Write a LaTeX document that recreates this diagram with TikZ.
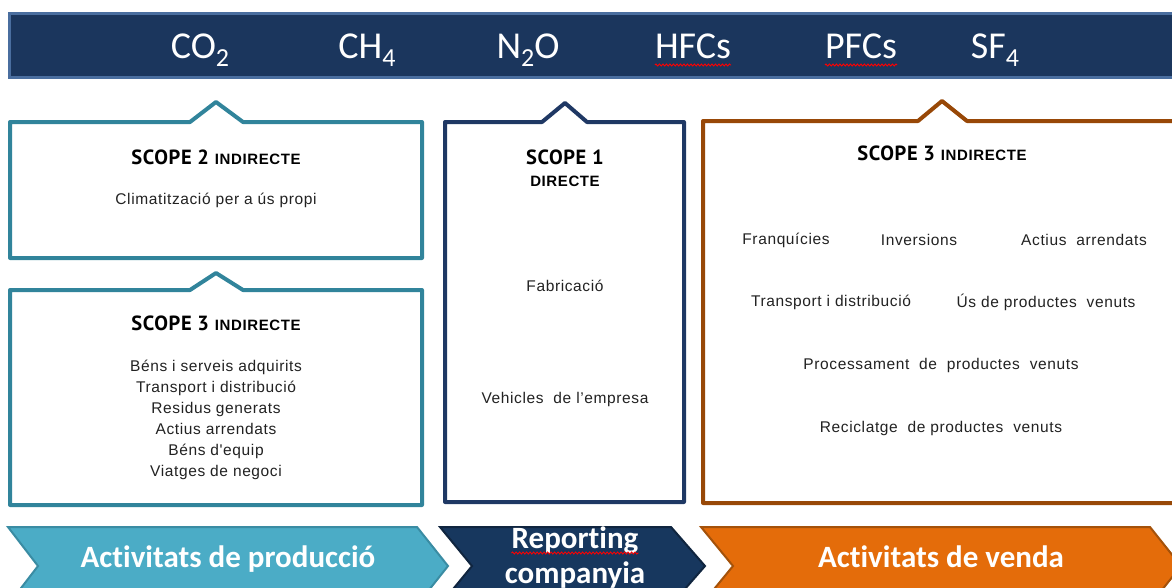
\documentclass[tikz,border=0pt]{standalone}
\usepackage{fontspec}
\setmainfont{Carlito}[Ligatures=NoCommon]
\newfontfamily\titlefont[LetterSpace=3]{PT Sans}
\newfontfamily\subfont[LetterSpace=4]{Liberation Sans}
\newfontfamily\bodyfont[LetterSpace=4]{Liberation Sans}
\usetikzlibrary{decorations.pathmorphing}
\definecolor{navy}{HTML}{1B365D}
\definecolor{navyedge}{HTML}{4A6E9F}
\definecolor{teal}{HTML}{31849B}
\definecolor{tealfill}{HTML}{4BACC6}
\definecolor{tealedge}{HTML}{3A8CA3}
\definecolor{boxnavy}{HTML}{1F3864}
\definecolor{chevnavy}{HTML}{17375E}
\definecolor{chevnavyedge}{HTML}{10253F}
\definecolor{brown}{HTML}{984807}
\definecolor{orangefill}{HTML}{E46C0A}
\definecolor{orangeedge}{HTML}{A4520A}
\definecolor{txtgray}{HTML}{222222}
\newcommand\gsub[1]{\raisebox{-0.22em}{\fontsize{26}{26}\selectfont #1}}
\newcommand\indir{{\subfont\bfseries\fontsize{15}{20}\selectfont INDIRECTE}}
\tikzset{
  gas/.style={font=\fontsize{38}{40}\selectfont, text=white, inner sep=0pt, anchor=base},
  ttl/.style={font=\titlefont\bfseries\fontsize{20.5}{24}\selectfont, text=black, align=center, inner sep=0pt},
  sub/.style={font=\subfont\bfseries\fontsize{15}{20}\selectfont, text=black, inner sep=0pt},
  body/.style={font=\bodyfont\fontsize{15.5}{21}\selectfont, text=txtgray, align=center, inner sep=0pt},
  chevtxt/.style={font=\bfseries\fontsize{31}{36}\selectfont, text=white, align=center, inner sep=0pt, anchor=base},
  scopebox/.style={line width=4pt, line join=round, fill=white},
  chevron/.style={line width=2pt, line join=miter},
  spell/.style={draw=red, line width=0.9pt, decorate, decoration={snake, amplitude=1pt, segment length=3.5pt}}
}
\begin{document}
\begin{tikzpicture}[x=1pt,y=-1pt]
\useasboundingbox (0,0) rectangle (1172,587);
\clip (0,0) rectangle (1172,587);

% top band
\fill[navy, draw=navyedge, line width=3pt] (9,13) rectangle (1185,77);
\node[gas] (co2) at (200,58) {CO\gsub{2}};
\node[gas] (ch4) at (367,58) {CH\gsub{4}};
\node[gas] (n2o) at (528,58) {N\gsub{2}O};
\node[gas] (hfc) at (693,58) {HFCs};
\node[gas] (pfc) at (861,58) {PFCs};
\node[gas] (sf4) at (995,58) {SF\gsub{4}};
\draw[spell] ([yshift=-7pt]hfc.base west) -- ([yshift=-7pt]hfc.base east);
\draw[spell] ([yshift=-7pt]pfc.base west) -- ([yshift=-7pt]pfc.base east);

% scope 2 box
\draw[scopebox, draw=teal] (10,122) -- (190,122) -- (216,102) -- (243,122) -- (422,122) -- (422,258) -- (10,258) -- cycle;
\node[ttl] (s2t) at (216,157) {SCOPE 2 \indir};
\node[body] (s2b) at (216,200) {Climatització per a ús propi};

% scope 3 left box
\draw[scopebox, draw=teal] (10,290) -- (190,290) -- (216,273) -- (243,290) -- (422,290) -- (422,505) -- (10,505) -- cycle;
\node[ttl] (s3lt) at (216,323) {SCOPE 3 \indir};
\node[body] (s3lb) at (216,420) {Béns i serveis adquirits\\Transport i distribució\\Residus generats\\Actius arrendats\\Béns d'equip\\Viatges de negoci};

% scope 1 box
\draw[scopebox, draw=boxnavy] (445,122) -- (542,122) -- (565,103) -- (587,122) -- (684,122) -- (684,502) -- (445,502) -- cycle;
\node[ttl] (s1t) at (565,157) {SCOPE 1};
\node[sub] (s1d) at (565,181) {DIRECTE};
\node[body] (s1a) at (565,286) {Fabricació};
\node[body] (s1b) at (565,399) {Vehicles\ \ de l’empresa};

% scope 3 right box
\draw[scopebox, draw=brown] (703,121) -- (918,121) -- (942,101) -- (967,121) -- (1185,121) -- (1185,503) -- (703,503) -- cycle;
\node[ttl] (s3rt) at (942,153) {SCOPE 3 \indir};
\node[body] (r1) at (786,240) {Franquícies};
\node[body] (r2) at (919,240) {Inversions};
\node[body] (r3) at (1084,240) {Actius\ \ arrendats};
\node[body] (r4) at (831,302) {Transport i distribució};
\node[body] (r5) at (1046,302) {Ús de productes\ \ venuts};
\node[body] (r6) at (941,365) {Processament\ \ de\ \ productes\ \ venuts};
\node[body] (r7) at (941,428) {Reciclatge\ \ de productes\ \ venuts};

% bottom chevrons
\draw[chevron, fill=tealfill, draw=tealedge] (8,527) -- (417,527) -- (448,566) -- (417,605) -- (8,605) -- (38,566) -- cycle;
\draw[chevron, fill=chevnavy, draw=chevnavyedge] (440,527) -- (671,527) -- (705,566) -- (671,605) -- (440,605) -- (472,566) -- cycle;
\draw[chevron, fill=orangefill, draw=orangeedge] (701,527) -- (1150,527) -- (1181,566) -- (1150,605) -- (701,605) -- (733,566) -- cycle;
\node[chevtxt] (c1) at (228,567) {Activitats de producció};
\node[chevtxt] (c2a) at (575,548) {Reporting};
\node[chevtxt] (c2b) at (575,583) {companyia};
\node[chevtxt] (c3) at (941,567) {Activitats de venda};
\draw[spell] ([yshift=-5pt]c2a.base west) -- ([yshift=-5pt]c2a.base east);
\end{tikzpicture}
\end{document}
